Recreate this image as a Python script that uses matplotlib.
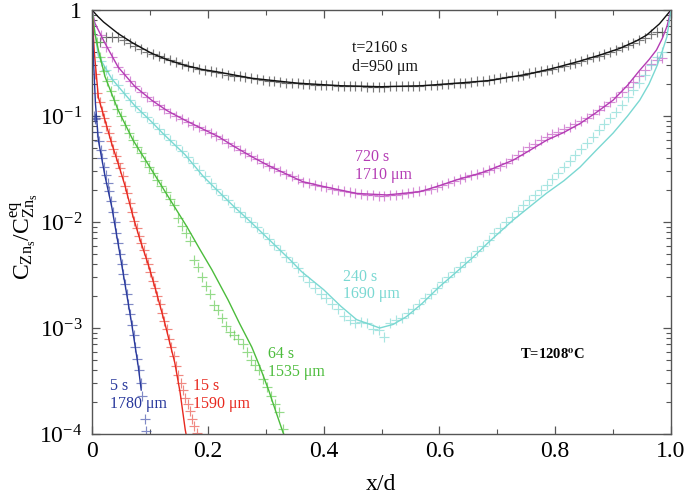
import numpy as np
import matplotlib
matplotlib.use("Agg")
import matplotlib.pyplot as plt
from matplotlib.ticker import FixedLocator, LogLocator, NullFormatter

plt.rcParams['font.family'] = ['Liberation Serif', 'DejaVu Serif']
plt.rcParams['mathtext.fontset'] = 'stix'

# ---------------- data ----------------
# t = 2160 s (black)
bk_lx = [0, 0.01, 0.02, 0.045, 0.07, 0.103, 0.13, 0.161, 0.19, 0.218, 0.276, 0.356, 0.43, 0.5, 0.57, 0.64, 0.687, 0.756, 0.8, 0.843, 0.88, 0.912, 0.94, 0.958, 0.98, 1.0]
bk_ly = [1, 0.87, 0.77, 0.60, 0.49, 0.39, 0.34, 0.30, 0.275, 0.26, 0.227, 0.204, 0.193, 0.189, 0.193, 0.206, 0.216, 0.25, 0.285, 0.33, 0.38, 0.435, 0.51, 0.58, 0.74, 1.0]
bk_mx = [0.014, 0.025, 0.035, 0.045, 0.055, 0.065, 0.075, 0.085, 0.095, 0.105, 0.115, 0.125, 0.135, 0.145, 0.155, 0.165, 0.175, 0.185, 0.195, 0.205, 0.215, 0.225, 0.235, 0.245, 0.255, 0.265, 0.275, 0.285, 0.295, 0.305, 0.315, 0.325, 0.335, 0.345, 0.355, 0.365, 0.375, 0.385, 0.395, 0.405, 0.415, 0.425, 0.435, 0.445, 0.455, 0.465, 0.475, 0.485, 0.495, 0.505, 0.515, 0.525, 0.535, 0.545, 0.555, 0.565, 0.575, 0.585, 0.595, 0.605, 0.615, 0.625, 0.635, 0.645, 0.655, 0.665, 0.675, 0.685, 0.695, 0.705, 0.715, 0.725, 0.735, 0.745, 0.755, 0.765, 0.775, 0.785, 0.795, 0.805, 0.815, 0.825, 0.835, 0.845, 0.855, 0.865, 0.875, 0.885, 0.895, 0.905, 0.915, 0.925, 0.935, 0.945, 0.955, 0.965, 0.975, 0.985]
bk_my = [0.50, 0.56, 0.56, 0.56, 0.52, 0.485, 0.455, 0.43, 0.405, 0.385, 0.365, 0.35, 0.335, 0.32, 0.31, 0.298, 0.288, 0.279, 0.271, 0.264, 0.258, 0.252, 0.246, 0.241, 0.236, 0.231, 0.227, 0.223, 0.219, 0.216, 0.213, 0.21, 0.207, 0.205, 0.203, 0.201, 0.199, 0.197, 0.196, 0.195, 0.194, 0.193, 0.192, 0.191, 0.19, 0.19, 0.189, 0.189, 0.189, 0.189, 0.19, 0.19, 0.191, 0.191, 0.192, 0.193, 0.194, 0.195, 0.197, 0.199, 0.201, 0.203, 0.205, 0.207, 0.21, 0.213, 0.216, 0.219, 0.223, 0.227, 0.231, 0.236, 0.241, 0.246, 0.252, 0.258, 0.265, 0.272, 0.28, 0.288, 0.297, 0.307, 0.318, 0.33, 0.343, 0.357, 0.372, 0.388, 0.405, 0.423, 0.443, 0.465, 0.49, 0.52, 0.55, 0.6, 0.62, 0.62]

# t = 720 s (magenta)
mg_lx = [0, 0.005, 0.0225, 0.045, 0.074, 0.103, 0.13, 0.161, 0.19, 0.218, 0.247, 0.276, 0.305, 0.333, 0.364, 0.40, 0.457, 0.509, 0.566, 0.60, 0.63, 0.67, 0.687, 0.728, 0.755, 0.785, 0.815, 0.843, 0.87, 0.90, 0.925, 0.946, 0.962, 0.975, 0.985, 0.993, 1.0]
mg_ly = [1, 0.75, 0.485, 0.29, 0.19, 0.141, 0.112, 0.091, 0.076, 0.064, 0.051, 0.0413, 0.034, 0.0288, 0.024, 0.0216, 0.0186, 0.018, 0.0193, 0.022, 0.025, 0.0288, 0.031, 0.0385, 0.047, 0.059, 0.07, 0.085, 0.107, 0.141, 0.195, 0.27, 0.34, 0.42, 0.54, 0.70, 1.0]
mg_mx = [0.015, 0.025, 0.035, 0.045, 0.055, 0.065, 0.075, 0.085, 0.095, 0.105, 0.115, 0.125, 0.135, 0.145, 0.155, 0.165, 0.175, 0.185, 0.195, 0.205, 0.215, 0.225, 0.235, 0.245, 0.255, 0.265, 0.275, 0.285, 0.295, 0.305, 0.315, 0.325, 0.335, 0.345, 0.355, 0.365, 0.375, 0.385, 0.395, 0.405, 0.415, 0.425, 0.435, 0.445, 0.455, 0.465, 0.475, 0.485, 0.495, 0.505, 0.515, 0.525, 0.535, 0.545, 0.555, 0.565, 0.575, 0.585, 0.595, 0.605, 0.615, 0.625, 0.635, 0.645, 0.655, 0.665, 0.675, 0.685, 0.695, 0.705, 0.715, 0.725, 0.735, 0.745, 0.755, 0.765, 0.775, 0.785, 0.795, 0.805, 0.815, 0.825, 0.835, 0.845, 0.855, 0.865, 0.875, 0.885, 0.895, 0.905, 0.915, 0.925, 0.935, 0.945, 0.955, 0.965, 0.975, 0.985]
mg_my = [0.58, 0.45, 0.36, 0.29, 0.25, 0.215, 0.19, 0.17, 0.152, 0.138, 0.126, 0.116, 0.107, 0.099, 0.093, 0.088, 0.083, 0.078, 0.074, 0.069, 0.065, 0.061, 0.056, 0.052, 0.048, 0.045, 0.042, 0.039, 0.036, 0.034, 0.032, 0.030, 0.0285, 0.027, 0.0255, 0.024, 0.0232, 0.0224, 0.0218, 0.0212, 0.0205, 0.02, 0.0195, 0.019, 0.0186, 0.0183, 0.018, 0.0178, 0.0177, 0.0177, 0.0178, 0.018, 0.0183, 0.0186, 0.0192, 0.0198, 0.0200, 0.0205, 0.0215, 0.0225, 0.0235, 0.0245, 0.0255, 0.0265, 0.0275, 0.0285, 0.0298, 0.031, 0.0325, 0.034, 0.036, 0.039, 0.043, 0.047, 0.051, 0.055, 0.059, 0.063, 0.067, 0.071, 0.075, 0.079, 0.084, 0.089, 0.096, 0.104, 0.113, 0.124, 0.136, 0.15, 0.167, 0.187, 0.21, 0.24, 0.27, 0.31, 0.34, 0.35]

# t = 240 s (cyan)
cy_lx = [0, 0.005, 0.011, 0.034, 0.057, 0.074, 0.103, 0.123, 0.161, 0.192, 0.218, 0.245, 0.27, 0.305, 0.342, 0.362, 0.40, 0.43, 0.457, 0.497, 0.52, 0.543, 0.57, 0.60, 0.63, 0.659, 0.687, 0.728, 0.755, 0.785, 0.815, 0.843, 0.87, 0.90, 0.925, 0.946, 0.962, 0.975, 0.985, 0.993, 1.0]
cy_ly = [1, 0.62, 0.37, 0.225, 0.16, 0.125, 0.088, 0.068, 0.043, 0.027, 0.0195, 0.014, 0.0105, 0.0069, 0.0044, 0.0034, 0.0023, 0.0016, 0.0012, 0.00100, 0.00108, 0.00128, 0.0017, 0.00245, 0.0034, 0.0047, 0.0066, 0.0105, 0.0138, 0.0187, 0.0245, 0.033, 0.047, 0.069, 0.1, 0.141, 0.2, 0.29, 0.41, 0.56, 1.0]
cy_mx = [0.015, 0.025, 0.035, 0.045, 0.055, 0.065, 0.075, 0.085, 0.095, 0.105, 0.115, 0.125, 0.135, 0.145, 0.155, 0.165, 0.175, 0.185, 0.195, 0.205, 0.215, 0.225, 0.235, 0.245, 0.255, 0.265, 0.275, 0.285, 0.295, 0.305, 0.315, 0.325, 0.335, 0.345, 0.355, 0.365, 0.375, 0.385, 0.395, 0.405, 0.415, 0.425, 0.435, 0.445, 0.455, 0.465, 0.475, 0.485, 0.495, 0.505, 0.515, 0.525, 0.535, 0.545, 0.555, 0.565, 0.575, 0.585, 0.595, 0.605, 0.615, 0.625, 0.635, 0.645, 0.655, 0.665, 0.675, 0.685, 0.695, 0.705, 0.715, 0.725, 0.735, 0.745, 0.755, 0.765, 0.775, 0.785, 0.795, 0.805, 0.815, 0.825, 0.835, 0.845, 0.855, 0.865, 0.875, 0.885, 0.895, 0.905, 0.915, 0.925, 0.935, 0.945, 0.955, 0.965, 0.975, 0.985]
cy_my = [0.33, 0.27, 0.225, 0.195, 0.165, 0.142, 0.124, 0.11, 0.097, 0.086, 0.076, 0.067, 0.06, 0.053, 0.047, 0.041, 0.036, 0.031, 0.027, 0.0235, 0.0205, 0.018, 0.016, 0.014, 0.0125, 0.0112, 0.01, 0.0089, 0.0078, 0.0069, 0.0061, 0.0054, 0.0047, 0.0042, 0.0037, 0.0031, 0.0027, 0.0024, 0.0021, 0.0019, 0.0017, 0.0015, 0.0013, 0.00118, 0.00112, 0.00115, 0.00112, 0.00098, 0.00095, 0.00083, 0.00112, 0.00118, 0.00125, 0.00138, 0.0015, 0.00168, 0.0019, 0.0021, 0.0024, 0.0027, 0.003, 0.0034, 0.0038, 0.0042, 0.0047, 0.0053, 0.006, 0.0068, 0.0078, 0.0088, 0.01, 0.0112, 0.0126, 0.0145, 0.0163, 0.018, 0.02, 0.0225, 0.0255, 0.029, 0.033, 0.038, 0.043, 0.049, 0.056, 0.064, 0.073, 0.084, 0.096, 0.11, 0.128, 0.15, 0.175, 0.205, 0.245, 0.3, 0.36, 0.4]

# t = 64 s (green)
gr_lx = [0, 0.005, 0.011, 0.0225, 0.045, 0.071, 0.103, 0.135, 0.1635, 0.1865, 0.207, 0.235, 0.255, 0.276, 0.29, 0.305, 0.318, 0.33, 0.335]
gr_ly = [1, 0.6, 0.42, 0.235, 0.114, 0.059, 0.031, 0.0162, 0.0091, 0.0055, 0.00355, 0.00184, 0.0011, 0.00066, 0.00043, 0.00026, 0.00016, 0.000103, 0.00009]
gr_mx = [0.008, 0.014, 0.02, 0.026, 0.032, 0.038, 0.044, 0.05, 0.057, 0.064, 0.071, 0.078, 0.085, 0.092, 0.099, 0.106, 0.113, 0.12, 0.127, 0.134, 0.141, 0.148, 0.155, 0.162, 0.169, 0.176, 0.183, 0.19, 0.197, 0.204, 0.211, 0.218, 0.225, 0.232, 0.239, 0.246, 0.253, 0.26, 0.267, 0.274, 0.281, 0.288, 0.295, 0.302, 0.309, 0.316, 0.323, 0.33]
gr_my = [0.50, 0.363, 0.263, 0.214, 0.174, 0.141, 0.117, 0.1, 0.083, 0.069, 0.059, 0.051, 0.045, 0.038, 0.033, 0.029, 0.025, 0.022, 0.019, 0.0166, 0.0145, 0.011, 0.0091, 0.0078, 0.0066, 0.0044, 0.0038, 0.003, 0.0025, 0.0021, 0.00166, 0.00148, 0.00123, 0.00105, 0.00091, 0.00085, 0.00078, 0.00071, 0.0006, 0.0005, 0.00045, 0.0004, 0.00033, 0.00028, 0.00023, 0.00019, 0.00016, 0.000112]

# t = 15 s (red)
rd_lx = [0, 0.004, 0.011, 0.0225, 0.034, 0.045, 0.057, 0.071, 0.083, 0.097, 0.109, 0.126, 0.143, 0.152, 0.161, 0.164]
rd_ly = [1, 0.4, 0.15, 0.091, 0.055, 0.036, 0.022, 0.0112, 0.0068, 0.004, 0.0024, 0.0011, 0.00047, 0.00025, 0.00011, 0.00009]
rd_mx = [0.005, 0.009, 0.013, 0.017, 0.021, 0.025, 0.029, 0.033, 0.037, 0.041, 0.045, 0.049, 0.053, 0.057, 0.061, 0.065, 0.069, 0.073, 0.077, 0.081, 0.085, 0.089, 0.093, 0.097, 0.101, 0.105, 0.109, 0.113, 0.117, 0.121, 0.125, 0.129, 0.133, 0.137, 0.141, 0.145, 0.149, 0.153, 0.157, 0.161, 0.165, 0.169, 0.173, 0.177, 0.181]
rd_my = [0.25, 0.166, 0.135, 0.112, 0.095, 0.081, 0.069, 0.058, 0.049, 0.042, 0.036, 0.032, 0.027, 0.022, 0.0186, 0.0151, 0.0123, 0.0102, 0.0087, 0.0074, 0.0063, 0.0054, 0.0046, 0.004, 0.0034, 0.0028, 0.0024, 0.002, 0.0017, 0.0014, 0.00117, 0.00098, 0.00079, 0.00066, 0.00054, 0.00044, 0.00036, 0.0003, 0.00026, 0.00022, 0.00019, 0.000166, 0.00014, 0.00012, 0.000102]

# t = 5 s (blue)
bl_lx = [0, 0.003, 0.006, 0.011, 0.0225, 0.034, 0.045, 0.057, 0.0685, 0.08, 0.085]
bl_ly = [1, 0.3, 0.13, 0.059, 0.027, 0.014, 0.0063, 0.0026, 0.0011, 0.00043, 0.00026]
bl_mx = [0.003, 0.005, 0.006, 0.009, 0.012, 0.015, 0.018, 0.021, 0.024, 0.027, 0.03, 0.033, 0.036, 0.039, 0.042, 0.045, 0.048, 0.051, 0.054, 0.057, 0.06, 0.063, 0.066, 0.069, 0.072, 0.075, 0.078, 0.081, 0.084, 0.087, 0.091, 0.094]
bl_my = [0.1, 0.095, 0.093, 0.071, 0.058, 0.048, 0.04, 0.033, 0.028, 0.0234, 0.0195, 0.0158, 0.0123, 0.01, 0.0079, 0.0063, 0.005, 0.004, 0.0032, 0.0026, 0.0021, 0.0017, 0.00135, 0.00107, 0.00085, 0.00066, 0.00051, 0.0004, 0.0003, 0.00023, 0.00014, 0.000107]

series = [
    (bk_lx, bk_ly, bk_mx, bk_my, '#111111', '#333333'),
    (mg_lx, mg_ly, mg_mx, mg_my, '#b43cb4', '#c050c0'),
    (cy_lx, cy_ly, cy_mx, cy_my, '#7ad8d2', '#7ad8d2'),
    (gr_lx, gr_ly, gr_mx, gr_my, '#4cbc3c', '#5cc84c'),
    (rd_lx, rd_ly, rd_mx, rd_my, '#e8281e', '#e84a40'),
    (bl_lx, bl_ly, bl_mx, bl_my, '#28389c', '#3c4ca8'),
]

labels = [
    (0.449, 0.438, 't=2160 s', '#111111'),
    (0.449, 0.290, 'd=950 μm', '#111111'),
    (0.454, 0.041, '720 s', '#b43cb4'),
    (0.454, 0.0277, '1710 μm', '#b43cb4'),
    (0.4335, 0.00303, '240 s', '#7ad8d2'),
    (0.4335, 0.0021, '1690 μm', '#7ad8d2'),
    (0.304, 0.000569, '64 s', '#4cbc3c'),
    (0.304, 0.000385, '1535 μm', '#4cbc3c'),
    (0.1744, 0.000284, '15 s', '#e8281e'),
    (0.1744, 0.000192, '1590 μm', '#e8281e'),
    (0.031, 0.000284, '5 s', '#28389c'),
    (0.031, 0.000192, '1780 μm', '#28389c'),
]

x_ticks = [0, 0.2, 0.4, 0.6, 0.8, 1.0]
x_ticklabels = ['0', '0.2', '0.4', '0.6', '0.8', '1.0']
y_ticks = [1e-4, 1e-3, 1e-2, 1e-1, 1]
y_ticklabels = [r'$\mathregular{10^{-4}}$', r'$\mathregular{10^{-3}}$', r'$\mathregular{10^{-2}}$', r'$\mathregular{10^{-1}}$', '1']

# ---------------- plot ----------------
fig = plt.figure(figsize=(6.85, 4.93), dpi=100)
ax = fig.add_axes([92/685, 1-434/493, (671-92)/685, (434-10)/493])

for lx, ly, mx, my, lc, mc in series:
    ax.plot(mx, my, linestyle='none', marker='+', markersize=7, markeredgewidth=0.85,
            color=mc, alpha=0.65, clip_on=True)
    ax.plot(lx, ly, color=lc, linewidth=1.0)

ax.set_yscale('log')
ax.set_xlim(0, 1)
ax.set_ylim(1e-4, 1)

ax.xaxis.set_major_locator(FixedLocator(x_ticks))
ax.set_xticklabels(x_ticklabels)
ax.xaxis.set_minor_locator(FixedLocator([0.1, 0.3, 0.5, 0.7, 0.9]))
ax.yaxis.set_major_locator(FixedLocator(y_ticks))
ax.set_yticklabels(y_ticklabels)
ax.yaxis.set_minor_locator(LogLocator(base=10, subs=np.arange(2, 10), numticks=20))
ax.yaxis.set_minor_formatter(NullFormatter())

ax.tick_params(which='both', direction='in', top=True, right=True, colors='#555555',
               labelcolor='black', labelsize=17)
ax.tick_params(which='major', length=6, width=0.9)
ax.tick_params(which='minor', length=3.5, width=0.8)
ax.tick_params(axis='x', pad=5)
ax.tick_params(axis='y', pad=7)
for sp in ax.spines.values():
    sp.set_color('#555555')
    sp.set_linewidth(1.0)

for x, y, s, c in labels:
    ax.text(x, y, s, color=c, fontsize=11.5, ha='left', va='center')
ax.text(0.739, 0.000556, r'T=1208$^{\mathbf{o}}$C', color='black', fontsize=10.5,
        fontweight='bold', ha='left', va='center')

fig.text(381/685, 1-484/493, 'x/d', fontsize=17, ha='center', va='center')
fig.text(24/685, 1-236/493, r'$\mathregular{C_{Zn_s}/C^{eq}_{Zn_s}}$', fontsize=17,
         rotation=90, ha='center', va='center')

fig.savefig('out.png', dpi=100)
